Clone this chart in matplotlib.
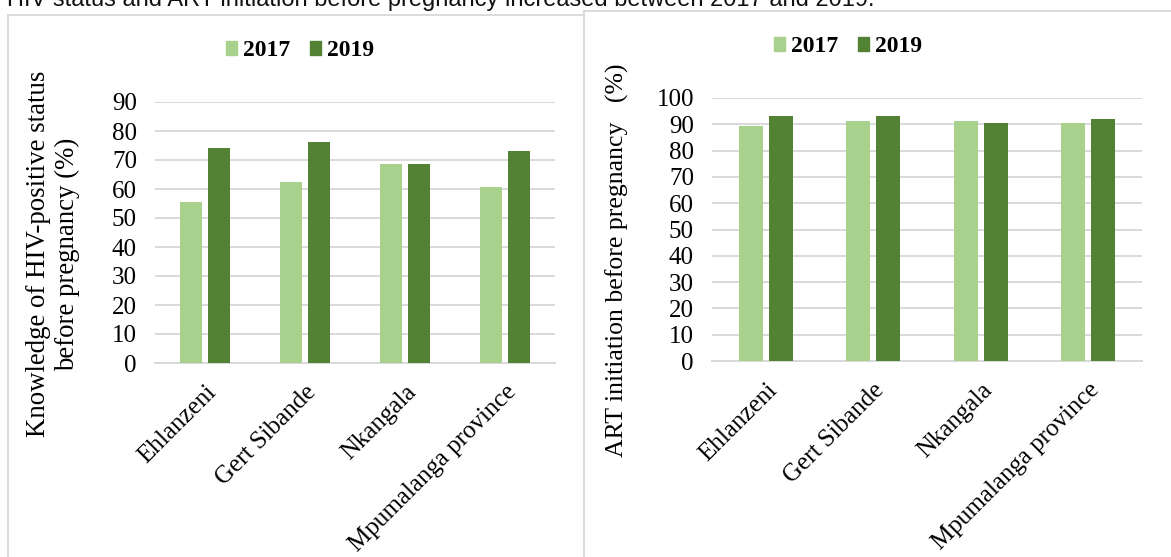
import matplotlib
matplotlib.use("Agg")
import matplotlib.pyplot as plt
import numpy as np
from matplotlib.lines import Line2D
from matplotlib.patches import Patch

categories = ["Ehlanzeni", "Gert Sibande", "Nkangala", "Mpumalanga province"]
years = ["2017", "2019"]
knowledge_2017 = [55.5, 62.5, 68.5, 60.8]
knowledge_2019 = [74.3, 76.3, 68.5, 73.1]
art_2017 = [89.4, 91.3, 91.1, 90.6]
art_2019 = [93.0, 93.0, 90.4, 92.2]
left_ticks = list(range(0, 91, 10))
right_ticks = list(range(0, 101, 10))

C17 = "#a9d18e"
C19 = "#548235"
GRID = "#d9d9d9"
SERIF = "Liberation Serif"

W, H = 1171, 557
fig = plt.figure(figsize=(W / 100, H / 100), dpi=100)

def px(x0, y0, x1, y1):
    return [x0 / W, 1 - y1 / H, (x1 - x0) / W, (y1 - y0) / H]

# panel borders
def fl(xs, ys):
    fig.add_artist(Line2D([x / W for x in xs], [1 - y / H for y in ys],
                          color=GRID, lw=1.3, transform=fig.transFigure))

fl([8, 584], [15, 15])
fl([8, 8], [15, 570])
fl([584, 1180], [11, 11])
fl([584, 584], [11, 570])

fig.text(7 / W, 1 - 6 / H,
         "HIV status and ART initiation before pregnancy increased between 2017 and 2019.",
         family="Liberation Sans", fontsize=17, va="baseline", ha="left", color="#111111")

def draw(ax, v17, v19, ticks, ymax):
    x = np.arange(len(categories))
    ax.bar(x - 0.14, v17, width=0.22, color=C17, zorder=3)
    ax.bar(x + 0.14, v19, width=0.22, color=C19, zorder=3)
    ax.set_xlim(-0.5, len(categories) - 0.5)
    ax.set_ylim(0, ymax)
    ax.set_yticks(ticks)
    ax.set_yticklabels([str(t) for t in ticks], family=SERIF, fontsize=18)
    ax.yaxis.grid(True, color=GRID, lw=1.4, zorder=0)
    ax.set_axisbelow(True)
    for s in ["top", "right", "left"]:
        ax.spines[s].set_visible(False)
    ax.spines["bottom"].set_color(GRID)
    ax.spines["bottom"].set_linewidth(1.4)
    ax.tick_params(axis="both", length=0)
    ax.tick_params(axis="y", pad=13)
    ax.set_xticks(x)
    ax.set_xticklabels(categories, family=SERIF, fontsize=18, rotation=45,
                       ha="right", va="top", rotation_mode="anchor")
    ax.tick_params(axis="x", pad=13)

ax1 = fig.add_axes(px(155, 102, 555, 363))
draw(ax1, knowledge_2017, knowledge_2019, left_ticks, 90)
ax2 = fig.add_axes(px(712, 98, 1142, 361))
draw(ax2, art_2017, art_2019, right_ticks, 100)

fig.text(53 / W, 1 - 254 / H, "Knowledge of HIV-positive status\nbefore pregnancy (%)",
         family=SERIF, fontsize=19.4, rotation=90, ha="center", va="center",
         multialignment="center", linespacing=1.25)
fig.text(617 / W, 1 - 260 / H, "ART initiation before pregnancy   (%)",
         family=SERIF, fontsize=18.5, rotation=90, ha="center", va="center")

handles = [Patch(color=C17), Patch(color=C19)]
for cx, cy in [(300, 51), (848, 47)]:
    fig.legend(handles, years, loc="center", bbox_to_anchor=(cx / W, 1 - cy / H),
               ncol=2, frameon=False, handlelength=0.5, handleheight=0.5,
               handletextpad=0.25, columnspacing=0.8,
               prop={"family": SERIF, "size": 17, "weight": "bold"})

fig.savefig("out.png", dpi=100)
